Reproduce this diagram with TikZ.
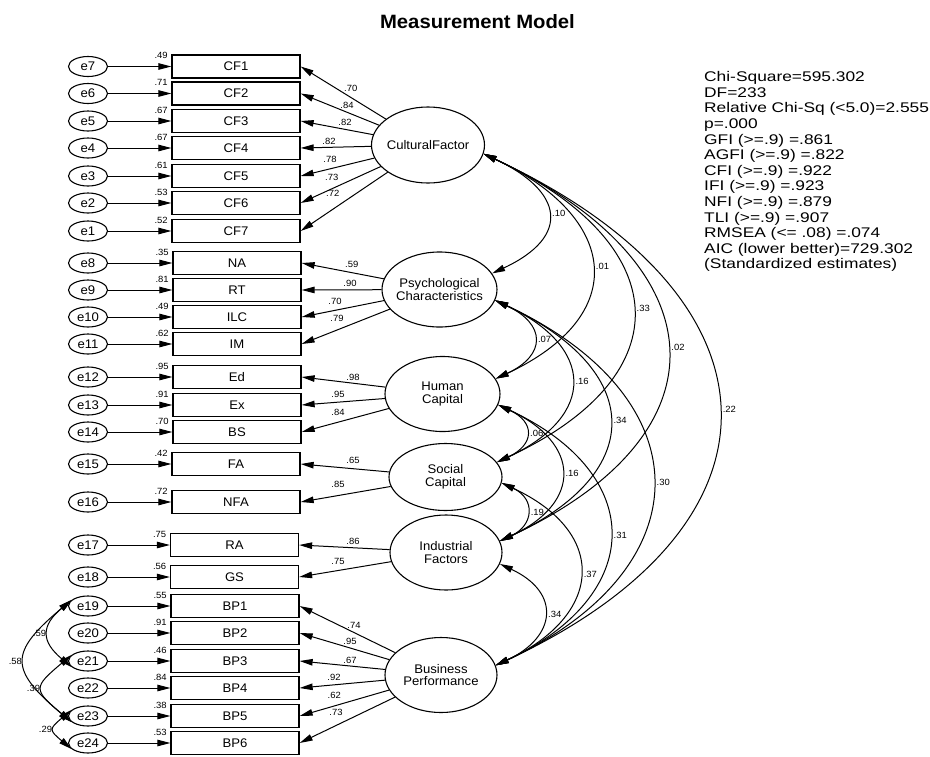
\documentclass[tikz,border=0pt]{standalone}
\usepackage{fontspec}
\setmainfont{Liberation Sans}[FakeStretch=1.05]
\newfontfamily\statfont{Liberation Sans}[FakeStretch=1.24]
\usetikzlibrary{arrows.meta,shapes.geometric}
\begin{document}
\begin{tikzpicture}[x=1pt,y=1pt,
  obs/.style={draw, line width=1.3pt, rectangle, minimum width=128pt, minimum height=23pt, inner sep=0pt, font=\fontsize{12.5}{14}\selectfont},
  errv/.style={ellipse, draw, line width=1.1pt, minimum width=39pt, minimum height=20pt, inner sep=0pt, font=\fontsize{12.5}{14}\selectfont},
  lat/.style={ellipse, draw, line width=1.1pt, inner sep=0pt},
  lattext/.style={align=center, font=\fontsize{12.5}{12.5}\selectfont, inner sep=0pt},
  amos/.tip={Triangle[length=13pt,width=6.5pt]},
  arr/.style={-amos, line width=1pt},
  cov/.style={amos-amos, line width=1pt},
  lbl/.style={inner sep=0pt, font=\fontsize{9}{10}\selectfont},
  clbl/.style={lbl, anchor=west, xshift=4pt},
  elbl/.style={lbl, anchor=east, xshift=-2pt}
]
\useasboundingbox (0,0) rectangle (930,-756);

\node[font=\bfseries\fontsize{19.3}{21}\selectfont] (title) at (477.5,-22) {Measurement Model};

% observed variables, errors, squared multiple correlations
\foreach \b/\e/\y/\bx/\s in {CF1/e7/66.5/236/.49, CF2/e6/93.5/236/.71, CF3/e5/121/236/.67, CF4/e4/148/236/.67, CF5/e3/176/236/.61, CF6/e2/203/236/.53, CF7/e1/231/236/.52, NA/e8/263/237/.35, RT/e9/290/237/.81, ILC/e10/317/237/.49, IM/e11/344/237/.62, Ed/e12/377/237/.95, Ex/e13/405/237/.91, BS/e14/432/237/.70, FA/e15/464/236/.42, NFA/e16/502/236/.72, RA/e17/545/234.5/.75, GS/e18/577/234.5/.56, BP1/e19/606/235/.55, BP2/e20/633/235/.91, BP3/e21/661/235/.46, BP4/e22/688/235/.84, BP5/e23/716/235/.38, BP6/e24/743/235/.53}
{
  \node[obs] (\b) at (\bx,-\y) {\b};
  \node[errv] (\e) at (88,-\y) {\e};
  \draw[arr] (\e) -- (\b);
  \node[lbl, anchor=east] (s\b) at ([xshift=-3.5pt,yshift=-1.5pt]\b.north west) {\s};
}

% latent variables
\node[lat, minimum width=113pt, minimum height=76pt, label={[lattext]center:CulturalFactor}] (CF) at (428,-145) {};
\node[lat, minimum width=115pt, minimum height=75pt, label={[lattext]center:Psychological\\Characteristics}] (PC) at (439.5,-289.5) {};
\node[lat, minimum width=115pt, minimum height=75pt, label={[lattext]center:Human\\Capital}] (HC) at (442.5,-394) {};
\node[lat, minimum width=113pt, minimum height=67pt, label={[lattext]center:Social\\Capital}] (SC) at (445.5,-477) {};
\node[lat, minimum width=112pt, minimum height=75pt, label={[lattext]center:Industrial\\Factors}] (IF) at (446,-552.5) {};
\node[lat, minimum width=112pt, minimum height=75pt, label={[lattext]center:Business\\Performance}] (BP) at (441,-675) {};

% loadings
\foreach \l/\b/\v/\x/\y in {CF/CF1/.70/350.7/88, CF/CF2/.84/347/105, CF/CF3/.82/345/122, CF/CF4/.82/329/141, CF/CF5/.78/330/159, CF/CF6/.73/331.7/177, CF/CF7/.72/332.7/193, PC/NA/.59/351.7/264, PC/RT/.90/350/283, PC/ILC/.70/335/301, PC/IM/.79/337/318, HC/Ed/.98/353/377, HC/Ex/.95/338/394, HC/BS/.84/338/412, SC/FA/.65/353/460, SC/NFA/.85/338/484, IF/RA/.86/353/541, IF/GS/.75/338/561, BP/BP1/.74/354/625, BP/BP2/.95/350/641.7, BP/BP3/.67/350/660, BP/BP4/.92/334/677, BP/BP5/.62/334.3/695, BP/BP6/.73/336/712}
{
  \draw[arr] (\l) -- (\b.east);
  \node[lbl] (L\b) at (\x,-\y) {\v};
}

% attachment points of the covariances
\coordinate (CFo) at (CF.-9);
\coordinate (PCi) at (PC.17);
\coordinate (PCo) at (PC.-11);
\coordinate (HCi) at (HC.16);
\coordinate (HCo) at (HC.-11);
\coordinate (SCi) at (SC.16);
\coordinate (SCo) at (SC.-6);
\coordinate (IFi) at (IF.12);
\coordinate (IFo) at (IF.-12);
\coordinate (BPi) at (BP.10);

\draw[cov] (CFo) to[out=-25,in=25,looseness=1.88] node[clbl] (k1) {.10} (PCi);
\draw[cov] (CFo) to[out=-25,in=25,looseness=1.70] node[clbl] (k2) {.01} (HCi);
\draw[cov] (CFo) to[out=-25,in=25,looseness=1.73] node[clbl] (k3) {.33} (SCi);
\draw[cov] (CFo) to[out=-25,in=25,looseness=1.70] node[clbl] (k4) {.02} (IFi);
\draw[cov] (CFo) to[out=-25,in=25,looseness=1.68] node[clbl] (k5) {.22} (BPi);
\draw[cov] (PCo) to[out=-25,in=25,looseness=1.83] node[clbl] (k6) {.07} (HCi);
\draw[cov] (PCo) to[out=-25,in=25,looseness=1.74] node[clbl] (k7) {.16} (SCi);
\draw[cov] (PCo) to[out=-25,in=25,looseness=1.74] node[clbl] (k8) {.34} (IFi);
\draw[cov] (PCo) to[out=-25,in=25,looseness=1.62] node[clbl] (k9) {.30} (BPi);
\draw[cov] (HCo) to[out=-25,in=25,looseness=1.84] node[clbl] (k10) {.06} (SCi);
\draw[cov] (HCo) to[out=-25,in=25,looseness=1.71] node[clbl] (k11) {.16} (IFi);
\draw[cov] (HCo) to[out=-25,in=25,looseness=1.62] node[clbl] (k12) {.31} (BPi);
\draw[cov] (SCo) to[out=-25,in=25,looseness=1.65] node[clbl] (k13) {.19} (IFi);
\draw[cov] (SCo) to[out=-25,in=25,looseness=1.66] node[clbl] (k14) {.37} (BPi);
\draw[cov] (IFo) to[out=-25,in=25,looseness=1.70] node[clbl] (k15) {.34} (BPi);

% error covariances
\draw[cov] (e19.160) to[out=220,in=140,looseness=1.72] node[elbl] (k16) {.58} (e23.200);
\draw[cov] (e19.160) to[out=220,in=140,looseness=1.53] node[elbl] (k17) {.59} (e21.200);
\draw[cov] (e21.160) to[out=220,in=140,looseness=1.93] node[elbl] (k18) {.39} (e23.200);
\draw[cov] (e23.160) to[out=220,in=140,looseness=1.94] node[elbl] (k19) {.29} (e24.200);

% fit statistics
\node[anchor=north west, align=left, inner sep=0pt, font=\statfont\fontsize{14}{15.6}\selectfont] (fit) at (704,-71.4) {Chi-Square=595.302\\DF=233\\Relative Chi-Sq (<5.0)=2.555\\p=.000\\GFI (>=.9) =.861\\AGFI (>=.9) =.822\\CFI (>=.9) =.922\\IFI (>=.9) =.923\\NFI (>=.9) =.879\\TLI (>=.9) =.907\\RMSEA (<= .08) =.074\\AIC (lower better)=729.302\\(Standardized estimates)};
\end{tikzpicture}
\end{document}
